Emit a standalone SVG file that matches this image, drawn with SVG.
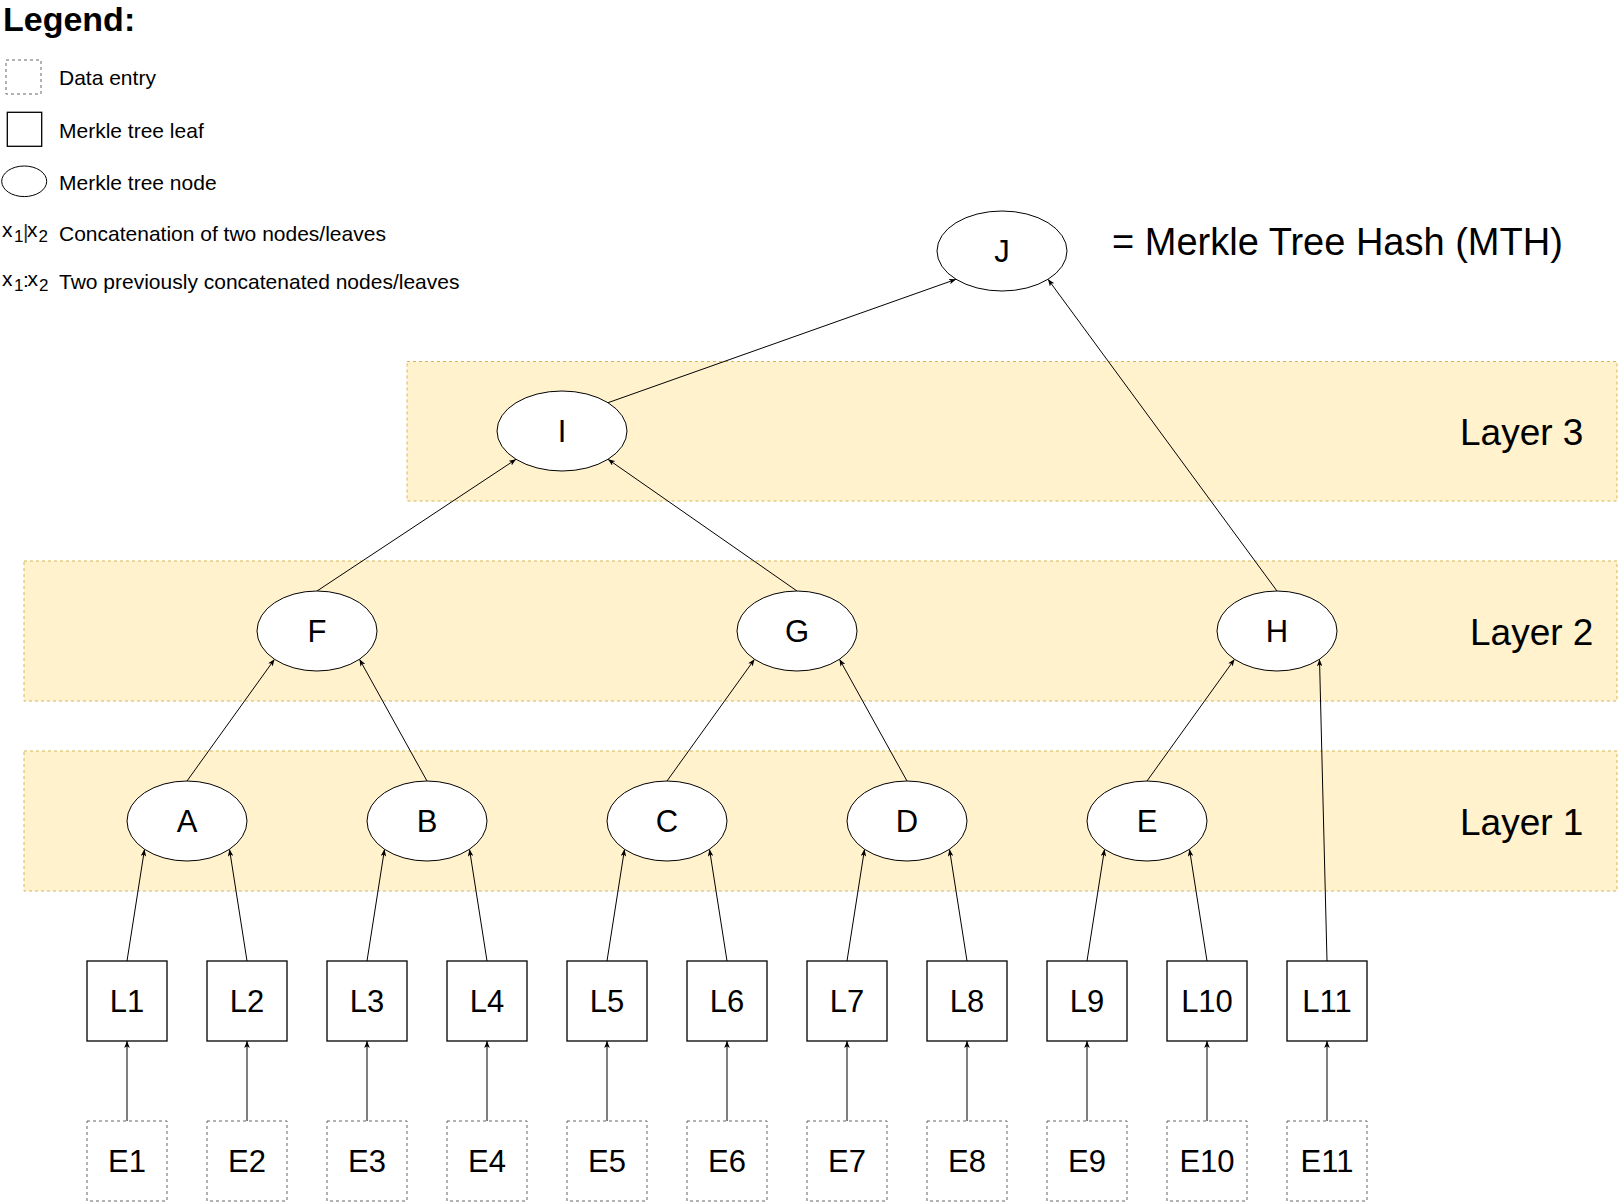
<svg xmlns="http://www.w3.org/2000/svg" width="1618" height="1202" viewBox="0 0 1618 1202">
<defs>
<style>
text{font-family:"Liberation Sans",Arial,sans-serif;fill:#000}
.band{fill:#fff2cc;stroke:#d6b656;stroke-width:1;stroke-dasharray:3 3}
.leaf{fill:#fff;stroke:#000;stroke-width:1.3}
.entry{fill:#fff;stroke:#666;stroke-width:1;stroke-dasharray:3 3}
.node{fill:#fff;stroke:#000;stroke-width:1}
.lbl{font-size:31px;text-anchor:middle}
.layer{font-size:37px}
.leg{font-size:21px}
.edge line{stroke:#000;stroke-width:1;marker-end:url(#arr)}
</style>
<marker id="arr" markerUnits="userSpaceOnUse" viewBox="0 0 7 5.6" refX="7" refY="2.8" markerWidth="7" markerHeight="5.6" orient="auto">
<path d="M0,0 L7,2.8 L0,5.6 L1.8,2.8 Z" fill="#000"/>
</marker>
</defs>
<rect width="1618" height="1202" fill="#fff"/>

<g id="legend">
<text x="3" y="31" style="font-size:34px;font-weight:bold">Legend:</text>
<rect x="6" y="60" width="35" height="34" class="entry"/>
<text x="59" y="85" class="leg">Data entry</text>
<rect x="7.3" y="112.3" width="34.4" height="34" class="leaf"/>
<text x="59" y="137.5" class="leg">Merkle tree leaf</text>
<ellipse cx="24.2" cy="181.3" rx="22.5" ry="15.3" class="node"/>
<text x="59" y="190" class="leg">Merkle tree node</text>
<text y="237" style="font-size:21px"><tspan x="2">x</tspan><tspan x="14" y="242" style="font-size:17px">1</tspan><tspan x="23" y="239" style="font-size:21px;fill:#333">|</tspan><tspan x="27" y="237">x</tspan><tspan x="38.5" y="242" style="font-size:17px">2</tspan></text>
<text x="59" y="240.5" class="leg">Concatenation of two nodes/leaves</text>
<text y="286" style="font-size:21px"><tspan x="2">x</tspan><tspan x="14" y="291" style="font-size:17px">1</tspan><tspan x="23" y="287">:</tspan><tspan x="27.5" y="286">x</tspan><tspan x="39" y="291" style="font-size:17px">2</tspan></text>
<text x="59" y="289" class="leg">Two previously concatenated nodes/leaves</text>
</g>

<g id="layers">
<g id="layer3"><rect x="407" y="361.5" width="1210" height="139.5" class="band"/><text x="1460" y="444.5" class="layer">Layer 3</text></g>
<g id="layer2"><rect x="24" y="561" width="1593" height="140" class="band"/><text x="1470" y="645" class="layer">Layer 2</text></g>
<g id="layer1"><rect x="24" y="751" width="1593" height="140" class="band"/><text x="1460" y="835" class="layer">Layer 1</text></g>
</g>

<g id="connectors" class="edge">
<line x1="127" y1="961" x2="144.5" y2="849.3"/>
<line x1="247" y1="961" x2="229.5" y2="849.3"/>
<line x1="367" y1="961" x2="384.5" y2="849.3"/>
<line x1="487" y1="961" x2="469.5" y2="849.3"/>
<line x1="607" y1="961" x2="624.5" y2="849.3"/>
<line x1="727" y1="961" x2="709.5" y2="849.3"/>
<line x1="847" y1="961" x2="864.5" y2="849.3"/>
<line x1="967" y1="961" x2="949.5" y2="849.3"/>
<line x1="1087" y1="961" x2="1104.5" y2="849.3"/>
<line x1="1207" y1="961" x2="1189.5" y2="849.3"/>
<line x1="1327" y1="961" x2="1319.5" y2="659.3"/>
<line x1="187" y1="781" x2="274.5" y2="659.3"/>
<line x1="427" y1="781" x2="359.5" y2="659.3"/>
<line x1="667" y1="781" x2="754.5" y2="659.3"/>
<line x1="907" y1="781" x2="839.5" y2="659.3"/>
<line x1="1147" y1="781" x2="1234.5" y2="659.3"/>
<line x1="317" y1="591" x2="516" y2="459.3"/>
<line x1="797" y1="591" x2="608" y2="459.3"/>
<line x1="608" y1="402.7" x2="956" y2="279.3"/>
<line x1="1277" y1="591" x2="1048" y2="279.3"/>
<line x1="127" y1="1121" x2="127" y2="1041"/>
<line x1="247" y1="1121" x2="247" y2="1041"/>
<line x1="367" y1="1121" x2="367" y2="1041"/>
<line x1="487" y1="1121" x2="487" y2="1041"/>
<line x1="607" y1="1121" x2="607" y2="1041"/>
<line x1="727" y1="1121" x2="727" y2="1041"/>
<line x1="847" y1="1121" x2="847" y2="1041"/>
<line x1="967" y1="1121" x2="967" y2="1041"/>
<line x1="1087" y1="1121" x2="1087" y2="1041"/>
<line x1="1207" y1="1121" x2="1207" y2="1041"/>
<line x1="1327" y1="1121" x2="1327" y2="1041"/>
</g>

<g id="node-J"><ellipse cx="1002" cy="251" rx="65" ry="40" class="node"/><text x="1002" y="262" class="lbl">J</text></g>
<text x="1112" y="255" style="font-size:38px">= Merkle Tree Hash (MTH)</text>
<g id="node-I"><ellipse cx="562" cy="431" rx="65" ry="40" class="node"/><text x="562" y="442" class="lbl">I</text></g>
<g id="node-F"><ellipse cx="317" cy="631" rx="60" ry="40" class="node"/><text x="317" y="642" class="lbl">F</text></g>
<g id="node-G"><ellipse cx="797" cy="631" rx="60" ry="40" class="node"/><text x="797" y="642" class="lbl">G</text></g>
<g id="node-H"><ellipse cx="1277" cy="631" rx="60" ry="40" class="node"/><text x="1277" y="642" class="lbl">H</text></g>
<g id="node-A"><ellipse cx="187" cy="821" rx="60" ry="40" class="node"/><text x="187" y="832" class="lbl">A</text></g>
<g id="node-B"><ellipse cx="427" cy="821" rx="60" ry="40" class="node"/><text x="427" y="832" class="lbl">B</text></g>
<g id="node-C"><ellipse cx="667" cy="821" rx="60" ry="40" class="node"/><text x="667" y="832" class="lbl">C</text></g>
<g id="node-D"><ellipse cx="907" cy="821" rx="60" ry="40" class="node"/><text x="907" y="832" class="lbl">D</text></g>
<g id="node-E"><ellipse cx="1147" cy="821" rx="60" ry="40" class="node"/><text x="1147" y="832" class="lbl">E</text></g>

<g id="leaf-L1"><rect x="87" y="961" width="80" height="80" class="leaf"/><text x="127" y="1012" class="lbl">L1</text></g>
<g id="leaf-L2"><rect x="207" y="961" width="80" height="80" class="leaf"/><text x="247" y="1012" class="lbl">L2</text></g>
<g id="leaf-L3"><rect x="327" y="961" width="80" height="80" class="leaf"/><text x="367" y="1012" class="lbl">L3</text></g>
<g id="leaf-L4"><rect x="447" y="961" width="80" height="80" class="leaf"/><text x="487" y="1012" class="lbl">L4</text></g>
<g id="leaf-L5"><rect x="567" y="961" width="80" height="80" class="leaf"/><text x="607" y="1012" class="lbl">L5</text></g>
<g id="leaf-L6"><rect x="687" y="961" width="80" height="80" class="leaf"/><text x="727" y="1012" class="lbl">L6</text></g>
<g id="leaf-L7"><rect x="807" y="961" width="80" height="80" class="leaf"/><text x="847" y="1012" class="lbl">L7</text></g>
<g id="leaf-L8"><rect x="927" y="961" width="80" height="80" class="leaf"/><text x="967" y="1012" class="lbl">L8</text></g>
<g id="leaf-L9"><rect x="1047" y="961" width="80" height="80" class="leaf"/><text x="1087" y="1012" class="lbl">L9</text></g>
<g id="leaf-L10"><rect x="1167" y="961" width="80" height="80" class="leaf"/><text x="1207" y="1012" class="lbl">L10</text></g>
<g id="leaf-L11"><rect x="1287" y="961" width="80" height="80" class="leaf"/><text x="1327" y="1012" class="lbl">L11</text></g>

<g id="entry-E1"><rect x="87" y="1121" width="80" height="80" class="entry"/><text x="127" y="1172" class="lbl">E1</text></g>
<g id="entry-E2"><rect x="207" y="1121" width="80" height="80" class="entry"/><text x="247" y="1172" class="lbl">E2</text></g>
<g id="entry-E3"><rect x="327" y="1121" width="80" height="80" class="entry"/><text x="367" y="1172" class="lbl">E3</text></g>
<g id="entry-E4"><rect x="447" y="1121" width="80" height="80" class="entry"/><text x="487" y="1172" class="lbl">E4</text></g>
<g id="entry-E5"><rect x="567" y="1121" width="80" height="80" class="entry"/><text x="607" y="1172" class="lbl">E5</text></g>
<g id="entry-E6"><rect x="687" y="1121" width="80" height="80" class="entry"/><text x="727" y="1172" class="lbl">E6</text></g>
<g id="entry-E7"><rect x="807" y="1121" width="80" height="80" class="entry"/><text x="847" y="1172" class="lbl">E7</text></g>
<g id="entry-E8"><rect x="927" y="1121" width="80" height="80" class="entry"/><text x="967" y="1172" class="lbl">E8</text></g>
<g id="entry-E9"><rect x="1047" y="1121" width="80" height="80" class="entry"/><text x="1087" y="1172" class="lbl">E9</text></g>
<g id="entry-E10"><rect x="1167" y="1121" width="80" height="80" class="entry"/><text x="1207" y="1172" class="lbl">E10</text></g>
<g id="entry-E11"><rect x="1287" y="1121" width="80" height="80" class="entry"/><text x="1327" y="1172" class="lbl">E11</text></g>
</svg>
